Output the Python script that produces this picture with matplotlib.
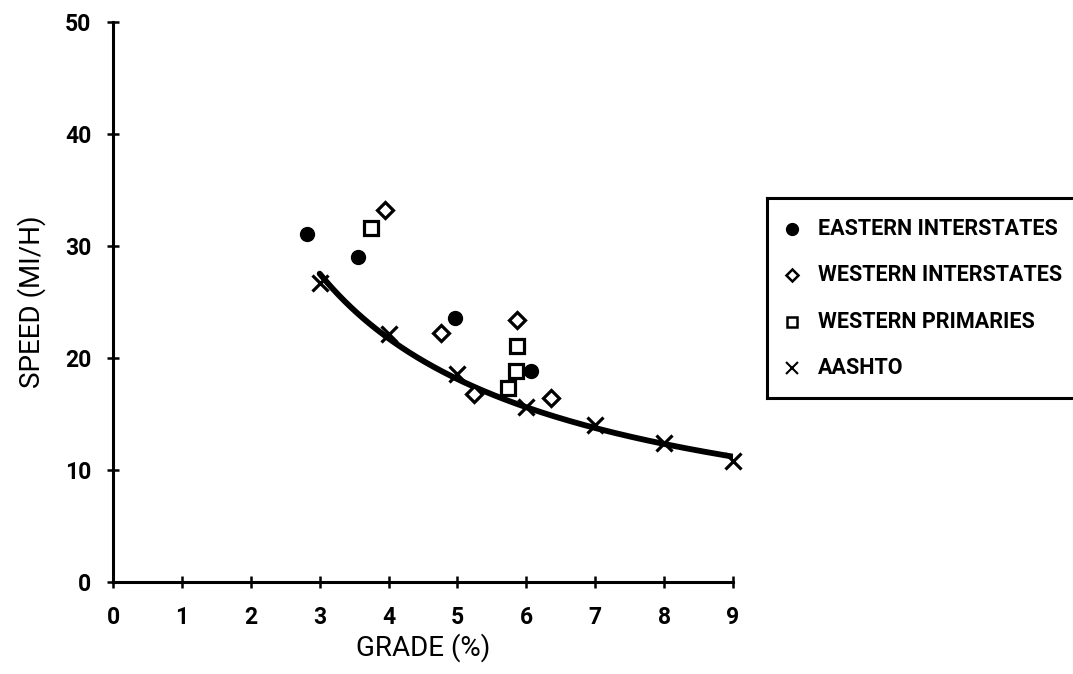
import numpy as np
import matplotlib
matplotlib.use("Agg")
import matplotlib.pyplot as plt
from matplotlib.lines import Line2D

# Observed crawl speeds on grades
eastern_grade = [2.81, 3.55, 4.96, 6.07]
eastern_speed = [31.1, 29.0, 23.6, 18.8]

western_grade = [3.95, 4.76, 5.24, 5.86, 6.36]
western_speed = [33.2, 22.2, 16.8, 23.4, 16.4]

primaries_grade = [3.74, 5.86, 5.85, 5.73]
primaries_speed = [31.6, 21.1, 18.8, 17.3]

# AASHTO design values
aashto_grade = [3, 4, 5, 6, 7, 8, 9]
aashto_speed = [26.7, 22.1, 18.6, 15.6, 14.0, 12.4, 10.8]

x_ticks = [0, 1, 2, 3, 4, 5, 6, 7, 8, 9]
y_ticks = [0, 10, 20, 30, 40, 50]

legend_labels = ["EASTERN INTERSTATES", "WESTERN INTERSTATES",
                 "WESTERN PRIMARIES", "AASHTO"]

W, H = 1073, 674
fig = plt.figure(figsize=(W / 100, H / 100), dpi=100)
fig.patch.set_facecolor("white")

font = ["Roboto", "DejaVu Sans"]

left, right, bottom, top = 113, 733, 582, 22
ax = fig.add_axes([left / W, 1 - bottom / H, (right - left) / W, (bottom - top) / H])
ax.set_xlim(0, 9)
ax.set_ylim(0, 50)
for s in ("top", "right"):
    ax.spines[s].set_visible(False)
for s in ("left", "bottom"):
    ax.spines[s].set_linewidth(2.2)
    ax.spines[s].set_clip_on(False)
ax.set_xticks(x_ticks)
ax.set_yticks(y_ticks)
ax.tick_params(direction="inout", length=9, width=1.8, colors="black")
ax.tick_params(axis="x", pad=13)
ax.tick_params(axis="y", pad=11)
for lab in ax.get_xticklabels() + ax.get_yticklabels():
    lab.set_fontfamily(font)
    lab.set_fontweight("bold")
    lab.set_fontsize(16.5)

ax.set_xlabel("GRADE (%)", fontsize=20, family=font, labelpad=3)
ax.set_ylabel("SPEED (MI/H)", fontsize=20, family=font, labelpad=14)

# Power-law trend through the AASHTO values
coef = np.polyfit(np.log(aashto_grade), np.log(aashto_speed), 1)
gx = np.linspace(min(aashto_grade), max(aashto_grade), 200)
gy = np.exp(np.polyval(coef, np.log(gx)))
ax.plot(gx, gy, color="black", lw=4.2, solid_capstyle="round", zorder=2)

ax.plot(aashto_grade, aashto_speed, ls="none", marker="x", ms=12,
        mew=2.3, color="black", zorder=3, clip_on=False)
ax.plot(eastern_grade, eastern_speed, ls="none", marker="o", ms=10,
        color="black", zorder=4)
ax.plot(western_grade, western_speed, ls="none", marker="D", ms=8.5,
        mfc="white", mec="black", mew=2.3, zorder=4)
ax.plot(primaries_grade, primaries_speed, ls="none", marker="s", ms=9.5,
        mfc="white", mec="black", mew=2.3, zorder=4)

# Key box, running off the right edge of the page
lx0, ly0, ly1 = 767, 198, 398
box_w = W + 40 - lx0
lax = fig.add_axes([lx0 / W, 1 - ly1 / H, box_w / W, (ly1 - ly0) / H])
lax.set_xlim(0, 1)
lax.set_ylim(0, 1)
lax.set_xticks([])
lax.set_yticks([])
lax.patch.set_alpha(0)
lax.spines["right"].set_visible(False)
for s in ("left", "top", "bottom"):
    lax.spines[s].set_linewidth(2.2)

marker_styles = [
    dict(marker="o", ms=8.5, mfc="black", mec="black", mew=1),
    dict(marker="D", ms=6.5, mfc="white", mec="black", mew=1.8),
    dict(marker="s", ms=7.5, mfc="white", mec="black", mew=1.8),
    dict(marker="x", ms=8.5, mfc="black", mec="black", mew=1.5),
]
row_y = [229, 275, 322, 368]
for label, style, yy in zip(legend_labels, marker_styles, row_y):
    fy = 1 - (yy - ly0) / (ly1 - ly0)
    lax.add_line(Line2D([(792 - lx0) / box_w], [fy], ls="none", color="black", **style))
    lax.text((818 - lx0) / box_w, fy, label, fontsize=15.5, fontweight="bold",
             family=font, va="center", ha="left")

fig.savefig("out.png", dpi=100, facecolor="white")
